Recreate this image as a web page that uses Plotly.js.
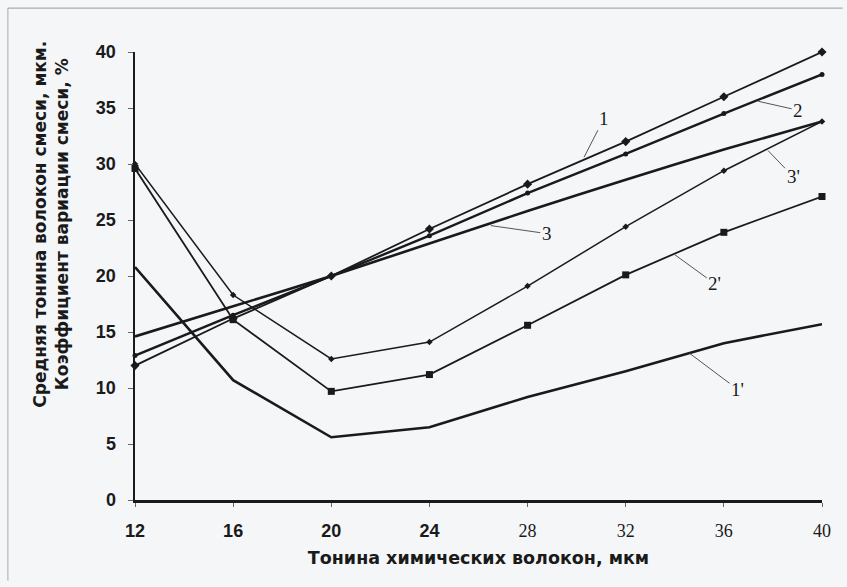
<!DOCTYPE html>
<html>
<head>
<meta charset="utf-8">
<script src="https://cdn.plot.ly/plotly-3.0.1.min.js"></script>
<style>
  html, body { margin: 0; padding: 0; background: #f5f6f8; }
  #chart { width: 847px; height: 587px; }
</style>
</head>
<body>
<div id="chart"></div>
<script>
// X values (fiber fineness, µm)
const xVals = [12, 16, 20, 24, 28, 32, 36, 40];
const xTickLabels = ['12', '16', '20', '24', '28', '32', '36', '40'];
const yTickVals = [0, 5, 10, 15, 20, 25, 30, 35, 40];

// Mean fineness curves
const s1 = [12.0, 16.2, 20.0, 24.2, 28.2, 32.0, 36.0, 40.0];
const s2 = [12.9, 16.5, 20.0, 23.6, 27.4, 30.9, 34.5, 38.0];
const s3 = [14.6, 17.3, 20.0, 22.9, 25.8, 28.6, 31.3, 33.8];
// Coefficient of variation curves
const s1p = [20.8, 10.7, 5.6, 6.5, 9.2, 11.5, 14.0, 15.7];
const s2p = [29.6, 16.1, 9.7, 11.2, 15.6, 20.1, 23.9, 27.1];
const s3p = [30.0, 18.3, 12.6, 14.1, 19.1, 24.4, 29.4, 33.8];

// Curve labels
const labelNames = ['1', '2', '3', "1'", "2'", "3'"];
const labelX = [30.3, 37.4, 26.5, 34.6, 34.0, 37.8];
const labelY = [30.6, 35.6, 24.5, 13.1, 21.9, 31.2];

const ink = '#1a1a1a';
const traces = [
  {x: xVals, y: s1, mode: 'lines+markers', line: {color: ink, width: 1.8},
   marker: {symbol: 'diamond', size: 7, color: ink}},
  {x: xVals, y: s2, mode: 'lines+markers', line: {color: ink, width: 2.4},
   marker: {symbol: 'circle', size: 5, color: ink}},
  {x: xVals, y: s3, mode: 'lines', line: {color: ink, width: 2.6, shape: 'spline', smoothing: 0.6}},
  {x: xVals, y: s1p, mode: 'lines', line: {color: ink, width: 2.6}},
  {x: xVals, y: s2p, mode: 'lines+markers', line: {color: ink, width: 1.8},
   marker: {symbol: 'square', size: 7, color: ink}},
  {x: xVals, y: s3p, mode: 'lines+markers', line: {color: ink, width: 1.5},
   marker: {symbol: 'diamond', size: 5, color: ink}}
];
traces.forEach(t => { t.showlegend = false; t.cliponaxis = false; t.hoverinfo = 'skip'; });

const offsets = [[20, -39], [40, 9], [56, 8], [48, 36], [40, 29], [25, 26]];
const annotations = labelNames.map((n, i) => ({
  x: labelX[i], y: labelY[i], xref: 'x', yref: 'y',
  text: n, showarrow: true, arrowhead: 0, arrowwidth: 1, arrowcolor: '#555',
  ax: offsets[i][0], ay: offsets[i][1], standoff: 0,
  font: {family: 'Liberation Serif, Times New Roman, serif', size: 19, color: ink}
}));
annotations.push({
  xref: 'paper', yref: 'paper', x: -0.122, y: 0.615,
  xanchor: 'center', yanchor: 'middle', textangle: -90, showarrow: false,
  text: 'Средняя тонина волокон смеси, мкм.<br>Коэффициент вариации смеси, %',
  font: {family: 'DejaVu Sans, sans-serif', size: 17, weight: 'bold', color: ink}
});

const xTickText = xTickLabels.map((t, i) => i < 4 ? '<b>' + t + '</b>' :
  '<span style="font-family:Liberation Serif">' + t + '</span>');

const layout = {
  width: 847, height: 587,
  margin: {l: 135, r: 25, t: 52, b: 87},
  paper_bgcolor: '#f5f6f8', plot_bgcolor: '#f5f6f8',
  font: {family: 'Liberation Sans, Arial, sans-serif', color: ink},
  xaxis: {
    range: [12, 40], tickvals: xVals, ticktext: xTickText,
    showgrid: false, zeroline: false, showline: true, linecolor: ink, linewidth: 2.5,
    ticks: 'outside', ticklen: 4, tickcolor: '#666', ticklabelstandoff: 9,
    tickfont: {size: 18, color: ink},
    title: {text: 'Тонина химических волокон, мкм',
            font: {family: 'DejaVu Sans, sans-serif', size: 17.5, weight: 'bold', color: ink}, standoff: 12}
  },
  yaxis: {
    range: [0, 40], tickvals: yTickVals,
    showgrid: false, zeroline: false, showline: true, linecolor: ink, linewidth: 2.5,
    ticks: 'outside', ticklen: 5, tickcolor: '#666', ticklabelstandoff: 8,
    tickfont: {size: 18, weight: 'bold', color: ink}
  },
  shapes: [
    {type: 'line', xref: 'paper', yref: 'paper', x0: -0.185, x1: -0.185, y0: -0.18, y1: 1.098,
     line: {color: '#aaa', width: 1}},
    {type: 'line', xref: 'paper', yref: 'paper', x0: -0.185, x1: 1.03, y0: 1.098, y1: 1.098,
     line: {color: '#999', width: 1}}
  ],
  annotations: annotations
};

Plotly.newPlot('chart', traces, layout, {staticPlot: true, displayModeBar: false});
</script>
</body>
</html>
